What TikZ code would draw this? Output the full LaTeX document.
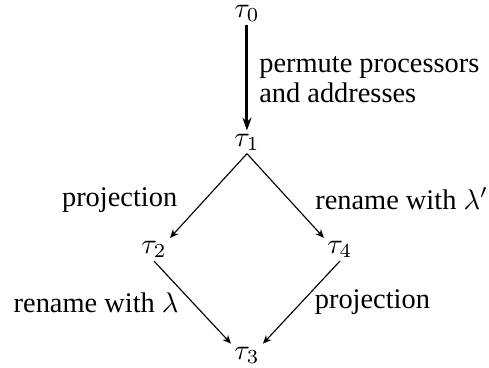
\documentclass[tikz,border=0pt]{standalone}
\usepackage{fontspec}
\setmainfont{Liberation Serif}
\usepackage{amsmath,amssymb}
\usetikzlibrary{arrows.meta,positioning}

\begin{document}
\begin{tikzpicture}[
    state/.style={inner sep=1pt, font=\normalsize},
    lbl/.style={font=\normalsize, align=left},
    thin arrow/.style={-{Stealth[length=3pt,width=2.6pt]}, line width=0.4pt},
    thick arrow/.style={-{Stealth[length=4.5pt,width=3.2pt]}, line width=1.05pt}]
    \useasboundingbox (-3.057,1.758) rectangle (2.996,-2.797);
    % the states
    \node[state] (t0) at (0,1.595) {$\tau_0$};
    \node[state] (t1) at (0,0) {$\tau_1$};
    \node[state] (t2) at (-1.15,-1.33) {$\tau_2$};
    \node[state] (t4) at (1.15,-1.33) {$\tau_4$};
    \node[state] (t3) at (0,-2.64) {$\tau_3$};
    % the steps
    \draw[thick arrow] (t0) -- node[lbl, right, pos=0.52, xshift=0.5pt]
         {permute processors\\[-1.4pt]and addresses} (t1);
    \draw[thin arrow] (t1.south) -- node[lbl, midway, left=7.5pt, yshift=-1.5pt] {projection} (t2.north east);
    \draw[thin arrow] (t1.south) -- node[lbl, midway, right=7pt, yshift=-1pt] {rename with $\lambda'$} (t4.north west);
    \draw[thin arrow] (t2.south) -- node[lbl, midway, left=1.4pt] {rename with $\lambda$} (t3.north west);
    \draw[thin arrow] (t4.south) -- node[lbl, midway, right=1.2pt] {projection} (t3.north east);
  \end{tikzpicture}
\end{document}
